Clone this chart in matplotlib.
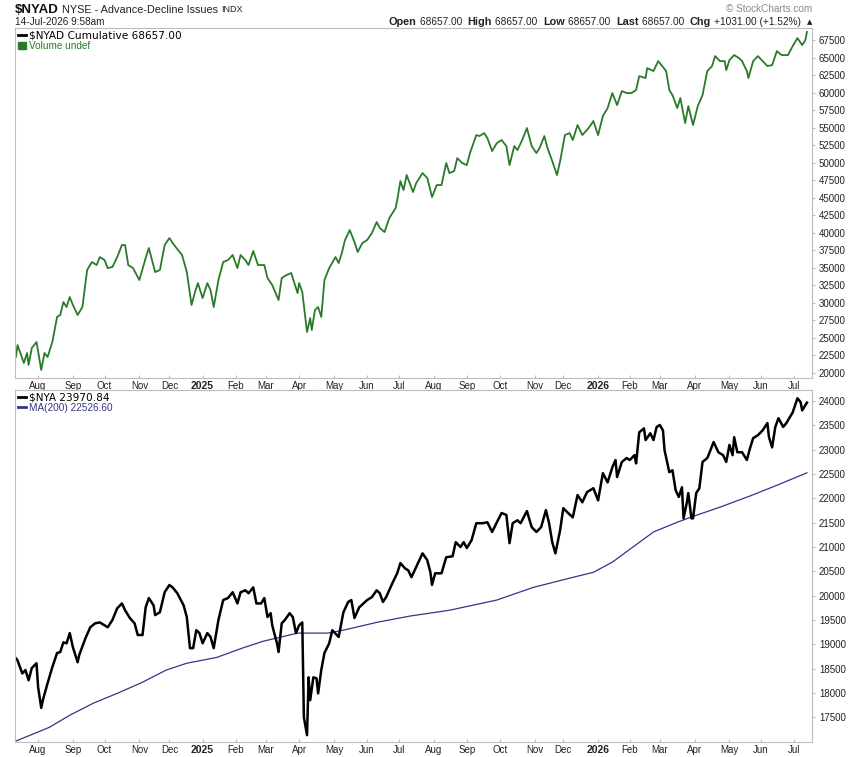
import numpy as np
import pandas as pd
import matplotlib
matplotlib.use("Agg")
import matplotlib.pyplot as plt
from matplotlib.lines import Line2D
from matplotlib.patches import Patch
from pandas.tseries.holiday import USFederalHolidayCalendar
from pandas.tseries.offsets import CustomBusinessDay

# session number (0 = first bar on the chart, 500 = 14-Jul-2026) and value
nyad_day = [0, 1, 5, 7, 8, 10, 13, 16, 18, 20,
            23, 26, 28, 30, 32, 34, 36, 39, 42, 45,
            48, 51, 53, 56, 58, 61, 64, 67, 69, 71,
            74, 78, 82, 84, 88, 91, 94, 97, 100, 105,
            108, 111, 113, 115, 118, 121, 123, 125, 128, 131,
            134, 137, 140, 142, 145, 147, 150, 153, 157, 159,
            162, 166, 168, 171, 174, 178, 179, 181, 184, 186,
            187, 189, 191, 193, 195, 198, 202, 204, 206, 208,
            211, 214, 216, 219, 222, 225, 228, 230, 233, 236,
            240, 241, 243, 245, 247, 251, 253, 257, 260, 263,
            266, 269, 272, 274, 277, 279, 282, 285, 287, 291,
            293, 296, 298, 301, 304, 307, 310, 312, 315, 317,
            320, 323, 326, 329, 331, 334, 336, 339, 342, 344,
            347, 350, 352, 355, 358, 362, 365, 368, 371, 374,
            377, 380, 383, 386, 389, 392, 394, 398, 399, 403,
            406, 408, 411, 413, 415, 418, 420, 423, 425, 428,
            431, 434, 437, 440, 442, 445, 448, 449, 451, 454,
            457, 459, 462, 463, 466, 469, 472, 475, 478, 481,
            484, 488, 491, 494, 497, 499, 500]
nyad_val = [22330, 23990, 21430, 22850, 21140, 23560, 24420, 20430, 22850, 22280,
            24420, 28000, 28270, 30120, 29410, 30840, 29700, 28270, 29410, 34690,
            35830, 35400, 36540, 36110, 34970, 35120, 36540, 38250, 38250, 35400,
            34970, 33260, 36400, 37830, 34400, 34690, 38250, 39250, 38250, 36830,
            34400, 29700, 31410, 32830, 30700, 32830, 31830, 29410, 33260, 35830,
            36110, 36830, 34970, 36830, 36110, 35400, 37400, 35400, 35400, 33550,
            32550, 30410, 33550, 33970, 34260, 31410, 32830, 31550, 25850, 27840,
            26130, 28980, 29410, 28000, 33260, 34970, 36540, 35690, 37110, 38970,
            40390, 38680, 37260, 38540, 38970, 39960, 41530, 40680, 40110, 42100,
            43530, 44670, 47380, 46100, 48240, 45810, 47090, 48520, 47810, 45100,
            46810, 46810, 49950, 48520, 48800, 50660, 49950, 49660, 51370, 53940,
            53800, 54220, 53510, 51660, 52800, 53230, 52370, 49660, 52370, 51800,
            53230, 54940, 52370, 51370, 52090, 53800, 52090, 50230, 48240, 50230,
            53940, 54220, 53230, 55370, 53940, 54940, 55940, 53940, 56650, 57790,
            59930, 58220, 60210, 59930, 59930, 60360, 62350, 62070, 63490, 63070,
            64490, 63920, 63070, 60360, 59640, 57790, 59210, 55650, 58070, 55370,
            58070, 59640, 63070, 63780, 65200, 64490, 64490, 63210, 64630, 65350,
            64920, 64490, 63070, 62070, 64490, 65200, 64490, 63780, 63920, 65920,
            65350, 65350, 66630, 67770, 66770, 67480, 68657]

nya_day = [0, 1, 4, 6, 8, 10, 13, 14, 16, 17,
           20, 23, 26, 28, 30, 32, 34, 36, 39, 40,
           44, 47, 50, 53, 58, 61, 64, 67, 69, 72,
           75, 77, 80, 82, 84, 87, 88, 91, 94, 97,
           99, 102, 106, 108, 110, 112, 114, 116, 118, 121,
           123, 125, 128, 131, 134, 137, 140, 142, 145, 147,
           150, 152, 155, 157, 159, 161, 162, 165, 166, 168,
           170, 173, 175, 177, 179, 181, 182, 184, 185, 186,
           188, 190, 191, 193, 195, 198, 200, 204, 207, 210,
           212, 214, 217, 222, 225, 228, 230, 232, 234, 238,
           241, 243, 246, 248, 250, 253, 257, 260, 262, 263,
           265, 269, 272, 276, 278, 281, 283, 285, 288, 291,
           295, 298, 301, 304, 307, 310, 312, 314, 317, 319,
           323, 326, 329, 332, 335, 337, 339, 341, 344, 346,
           349, 352, 355, 358, 361, 365, 368, 371, 374, 377,
           379, 380, 383, 386, 388, 391, 392, 394, 397, 398,
           401, 403, 405, 407, 409, 410, 413, 415, 417, 419,
           421, 422, 424, 425, 427, 428, 430, 432, 434, 437,
           439, 441, 444, 447, 449, 451, 453, 454, 456, 459,
           462, 464, 466, 469, 472, 475, 476, 478, 480, 482,
           485, 487, 491, 494, 496, 497, 499, 500]
nya_val = [18710, 18670, 18400, 18470, 18260, 18510, 18610, 18120, 17690, 17850,
           18200, 18530, 18820, 18840, 19040, 19020, 19230, 18940, 18630, 18780,
           19130, 19350, 19430, 19450, 19350, 19500, 19740, 19840, 19700, 19540,
           19430, 19190, 19190, 19760, 19950, 19800, 19600, 19660, 20070, 20220,
           20170, 20050, 19800, 19560, 18920, 18920, 19290, 19230, 19020, 19230,
           19150, 18920, 19500, 19910, 19950, 20070, 19840, 20070, 20110, 20050,
           20170, 19840, 19840, 19950, 19560, 19640, 19390, 19020, 18840, 19430,
           19500, 19640, 19560, 19230, 19390, 19450, 17500, 17130, 18320, 17850,
           18320, 18300, 17990, 18470, 18820, 19020, 19290, 19150, 19660, 19870,
           19910, 19540, 19760, 19910, 19970, 20110, 20050, 19870, 19970, 20260,
           20460, 20670, 20560, 20520, 20380, 20590, 20870, 20730, 20480, 20220,
           20460, 20460, 20790, 20810, 21100, 21000, 21100, 20980, 21140, 21490,
           21490, 21510, 21310, 21510, 21700, 21660, 21080, 21490, 21550, 21490,
           21740, 21410, 21310, 21410, 21760, 21490, 21100, 20870, 21350, 21800,
           21700, 21610, 22070, 21920, 22130, 22210, 21960, 22520, 22330, 22640,
           22790, 22440, 22750, 22830, 22790, 22890, 22720, 23360, 23440, 23200,
           23340, 23200, 23470, 23510, 23400, 22990, 22540, 22580, 22170, 22030,
           22230, 21590, 21900, 22110, 21590, 21590, 22110, 22210, 22750, 22830,
           22990, 23160, 22950, 22890, 22750, 23100, 22890, 23260, 22950, 22950,
           22790, 23030, 23240, 23300, 23400, 23550, 23260, 23050, 23470, 23650,
           23470, 23550, 23770, 24060, 23980, 23810, 23920, 23971]

ma_day = [0, 9, 21, 34, 49, 64, 80, 95, 108, 127, 143, 156, 165, 178, 186, 197, 207,
          228, 249, 274, 304, 327, 350, 365, 377, 390, 403, 418, 428, 445, 464, 481, 500]
ma_val = [17010, 17130, 17290, 17540, 17790, 17990, 18220, 18470, 18610, 18730, 18920,
          19060, 19130, 19230, 19230, 19230, 19290, 19450, 19580, 19700, 19910, 20170,
          20360, 20480, 20690, 21000, 21310, 21510, 21630, 21820, 22050, 22270, 22527]

top_ticks = list(range(20000, 67501, 2500))
bot_ticks = list(range(17500, 24001, 500))

GREEN = "#2a7a2a"
NAVY = "#34348a"
SPINE = "#bcbcbc"
TXT = "#222222"
W, H = 860, 757

sessions = pd.date_range(end="2026-07-14", periods=501,
                         freq=CustomBusinessDay(calendar=USFederalHolidayCalendar()))
month_pos = [i for i in range(1, len(sessions)) if sessions[i].month != sessions[i - 1].month]
month_lab = [sessions[i].strftime("%Y") if sessions[i].month == 1 else sessions[i].strftime("%b")
             for i in month_pos]

fig = plt.figure(figsize=(W / 100, H / 100), dpi=100)


def box(l, t, r, b):
    return [l / W, 1 - b / H, (r - l) / W, (b - t) / H]


ax1 = fig.add_axes(box(15, 28, 812, 378))
ax2 = fig.add_axes(box(15, 390, 812, 742))

ax1.plot(nyad_day, nyad_val, color=GREEN, lw=1.3)
ax2.plot(ma_day, ma_val, color=NAVY, lw=0.9)
ax2.plot(nya_day, nya_val, color="black", lw=1.8)

ax1.set_ylim(19290, 69210)
ax2.set_ylim(16990, 24230)
ax1.set_yticks(top_ticks)
ax2.set_yticks(bot_ticks)

for ax in (ax1, ax2):
    ax.set_xlim(-0.6, 503.2)
    ax.yaxis.tick_right()
    ax.set_xticks(month_pos, month_lab)
    ax.tick_params(axis="x", length=2, direction="in", pad=2, colors=SPINE, labelcolor=TXT, labelsize=7)
    ax.tick_params(axis="y", length=2, direction="out", pad=3, colors=SPINE, labelcolor=TXT, labelsize=7)
    for lab in ax.get_xticklabels():
        if lab.get_text().isdigit():
            lab.set_fontweight("bold")
            lab.set_fontsize(7.5)
    for lab in ax.get_xticklabels() + ax.get_yticklabels():
        lab.set_family(["Liberation Sans", "DejaVu Sans"])
    for s in ax.spines.values():
        s.set_color(SPINE)
        s.set_linewidth(0.8)

# in-panel legends
leg1 = ax1.legend(handles=[Line2D([], [], color="black", lw=2), Patch(color=GREEN)],
                  labels=[r"\$NYAD Cumulative 68657.00", "Volume undef"],
                  loc="upper left", frameon=False, handlelength=0.8, handleheight=0.6,
                  handletextpad=0.25, labelspacing=0.05, borderaxespad=0.1, borderpad=0.15,
                  prop={"family": "DejaVu Sans", "size": 7.6})
leg1.get_texts()[1].set_color(GREEN)
leg1.get_texts()[1].set_family(["Liberation Sans", "DejaVu Sans"])
leg1.get_texts()[1].set_fontsize(7.2)

leg2 = ax2.legend(handles=[Line2D([], [], color="black", lw=2), Line2D([], [], color=NAVY, lw=2)],
                  labels=[r"\$NYA 23970.84", "MA(200) 22526.60"],
                  loc="upper left", frameon=False, handlelength=0.8,
                  handletextpad=0.25, labelspacing=0.05, borderaxespad=0.1, borderpad=0.15,
                  prop={"family": "DejaVu Sans", "size": 7.6})
leg2.get_texts()[1].set_color(NAVY)
leg2.get_texts()[1].set_family(["Liberation Sans", "DejaVu Sans"])
leg2.get_texts()[1].set_fontsize(7.2)

# header rows
renderer = fig.canvas.get_renderer()


def text_row(pieces, x0, y, right=False):
    objs = []
    x = x0
    for s, kw in pieces:
        t = fig.text(x / W, 1 - y / H, s, va="center", ha="left", color=kw.pop("color", TXT), **kw)
        x += t.get_window_extent(renderer).width + 3
        objs.append(t)
    if right:
        shift = (x - 3 - x0) / W
        for t in objs:
            t.set_x(t.get_position()[0] - shift)


SANS = ["Liberation Sans", "DejaVu Sans"]
text_row([(r"\$NYAD", dict(fontsize=9.5, fontweight="bold", color="#111111",
                           family=["Liberation Sans Narrow", "DejaVu Sans Condensed", "Liberation Sans"])),
          ("NYSE - Advance-Decline Issues", dict(fontsize=7.8, family=SANS)),
          ("INDX", dict(fontsize=6.5, family=SANS))], 15, 10)
text_row([("14-Jul-2026 9:58am", dict(fontsize=7.2, family=SANS))], 15, 22)

quote = [("Open", "68657.00"), ("High", "68657.00"), ("Low", "68657.00"),
         ("Last", "68657.00"), ("Chg", "+1031.00 (+1.52%)")]
pieces = []
for k, v in quote:
    pieces.append((k, dict(fontsize=7.8, fontweight="bold", family=SANS)))
    pieces.append((v + " ", dict(fontsize=7.3, family=SANS)))
pieces.append(("\u25b2", dict(fontsize=5, family=["DejaVu Sans"])))
text_row(pieces, 812, 22, right=True)
text_row([("\u00a9 StockCharts.com", dict(fontsize=7.2, color="#8a8a8a", family=SANS))], 812, 9, right=True)

fig.savefig("out.png", dpi=100)
